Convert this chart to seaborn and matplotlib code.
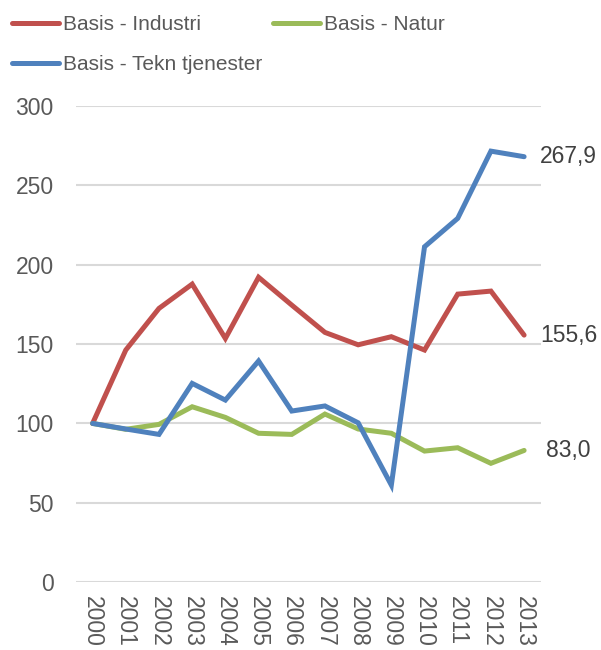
import numpy as np
import matplotlib
matplotlib.use("Agg")
import matplotlib.pyplot as plt
import seaborn as sns
import pandas as pd

# data (index, 2000 = 100)
years = [str(y) for y in range(2000, 2014)]
industri = [100, 146.2, 172.4, 187.7, 153.5, 192.0, 174.5, 157.3, 149.5, 154.6, 146.2, 181.4, 183.3, 155.6]
natur = [100, 96.3, 99.4, 110.5, 103.8, 93.8, 93.1, 105.9, 96.5, 93.8, 82.6, 84.7, 74.9, 83.0]
tekn = [100, 96.5, 93.1, 125.2, 114.7, 139.3, 107.8, 111.0, 100.4, 61.2, 211.2, 229.1, 271.4, 267.9]
series_names = ["Basis - Industri", "Basis - Natur", "Basis - Tekn tjenester"]
colors = ["#c0504d", "#9bbb59", "#4f81bd"]
y_ticks = [0, 50, 100, 150, 200, 250, 300]

sns.set_style("white")
plt.rcParams["font.family"] = ["Liberation Sans", "DejaVu Sans"]

df = pd.DataFrame({
    "year": years * 3,
    "pos": list(range(len(years))) * 3,
    "value": industri + natur + tekn,
    "series": [series_names[0]] * len(years) + [series_names[1]] * len(years) + [series_names[2]] * len(years),
})

fig = plt.figure(figsize=(6.01, 6.5), dpi=100)
ax = fig.add_axes([76 / 601, 1 - 582.3 / 650, (540.7 - 76) / 601, (582.3 - 105.7) / 650])

sns.lineplot(data=df, x="pos", y="value", hue="series", palette=colors,
             hue_order=series_names, linewidth=3.6, ax=ax, legend=False,
             solid_capstyle="round", solid_joinstyle="miter")

ax.set_xlim(-0.5, len(years) - 0.5)
ax.set_ylim(0, 300)
ax.set_yticks(y_ticks)
ax.set_xticks(range(len(years)))
ax.set_xticklabels(years, rotation=-90, fontsize=16.5, color="#595959")
ax.tick_params(axis="y", labelsize=16.5, labelcolor="#595959", length=0, pad=16)
ax.tick_params(axis="x", length=0, pad=10)
ax.grid(axis="y", color="#d9d9d9", linewidth=1.5)
ax.set_axisbelow(True)
for s in ax.spines.values():
    s.set_visible(False)
ax.set_xlabel("")
ax.set_ylabel("")

# end value labels
for name, vals in zip(series_names, [industri, natur, tekn]):
    last = vals[-1]
    ax.annotate(f"{last:.1f}".replace(".", ","), xy=(len(years) - 1, last),
                xytext=(32, 0), textcoords="offset points", ha="center", va="center",
                fontsize=16.5, color="#404040", annotation_clip=False)

# legend is filled column-wise, so order items to read row-wise like the original
order = [0, 2, 1]
handles = [plt.Line2D([0], [0], color=colors[i], linewidth=3.6, solid_capstyle="round") for i in order]
labels = [series_names[i] for i in order]
fig.legend(handles, labels, loc="upper left", bbox_to_anchor=(0.006, 0.989), ncol=2,
           frameon=False, fontsize=15, handlelength=2.25, handletextpad=0.2,
           columnspacing=0.5, labelspacing=1.0, borderaxespad=0,
           labelcolor="#595959")

fig.savefig("out.png", dpi=100)
